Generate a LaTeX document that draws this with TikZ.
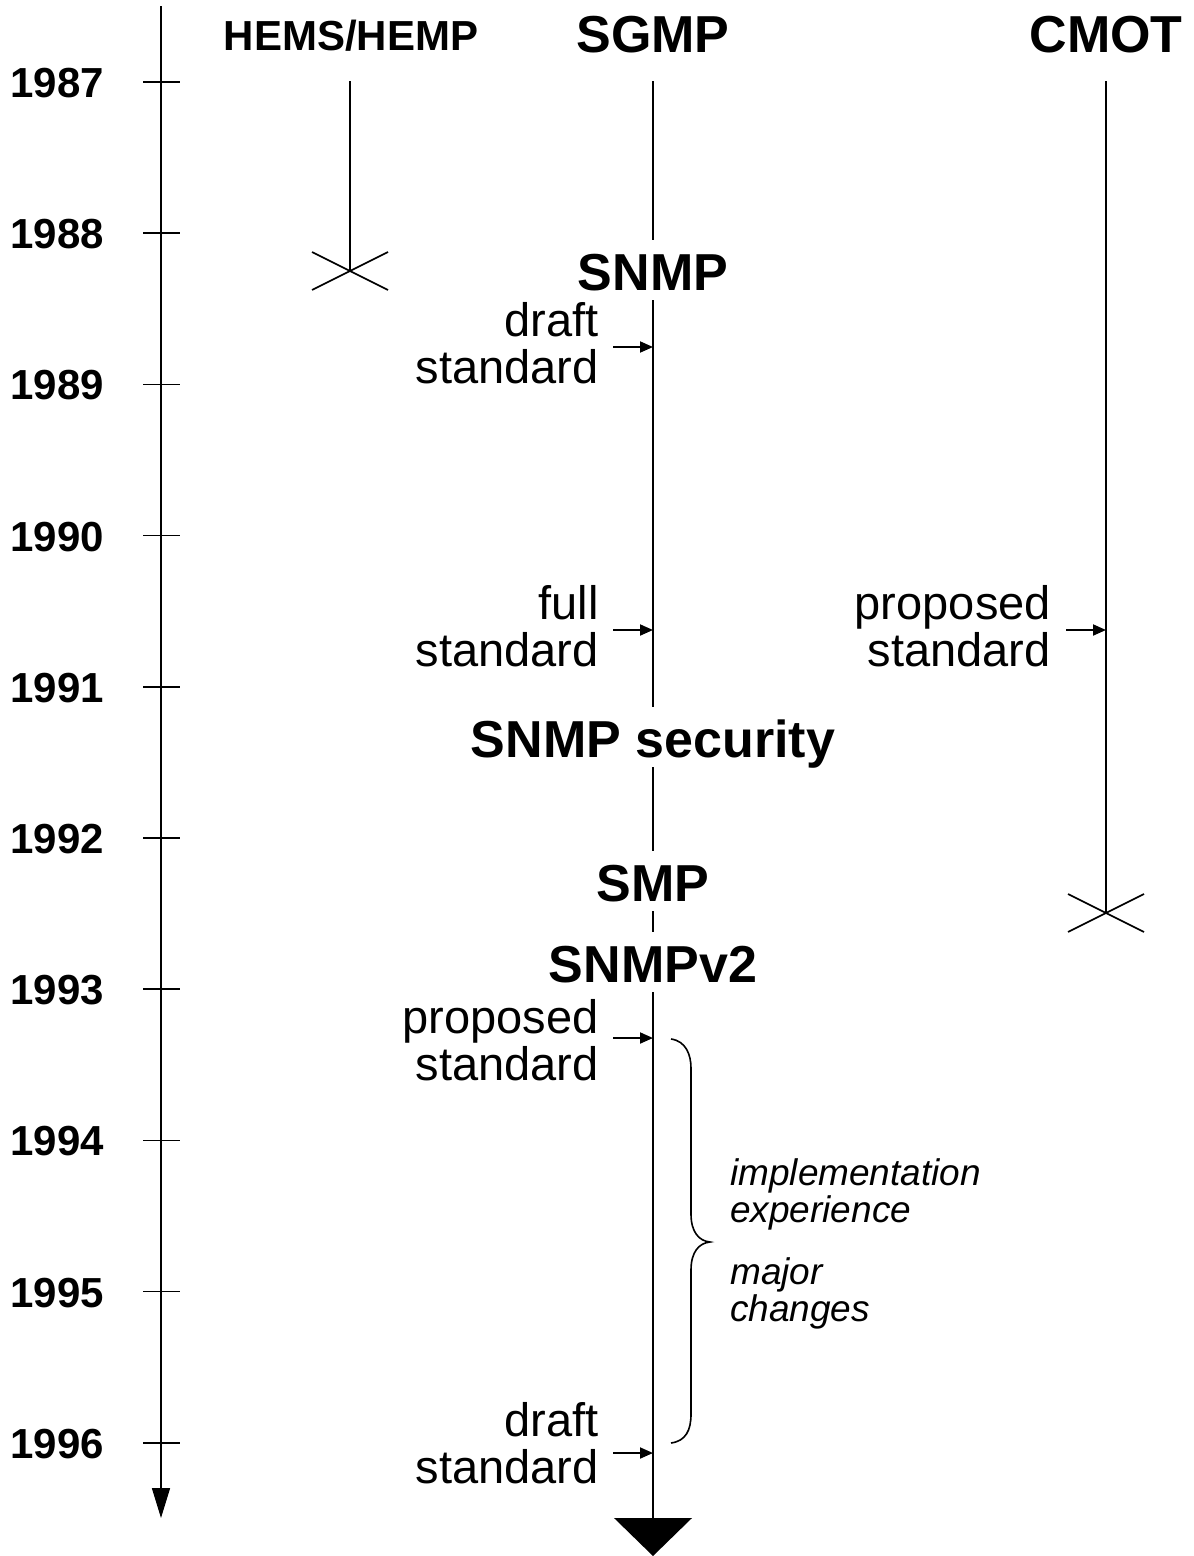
\documentclass[tikz,border=0pt]{standalone}
\usepackage{fontspec}
\setmainfont{Liberation Sans}
\usetikzlibrary{arrows.meta,calc}
\begin{document}
\begin{tikzpicture}[x=1pt,y=-1pt,
  year/.style={font=\fontsize{42}{42}\selectfont\bfseries, anchor=east, inner sep=0pt},
  proto/.style={font=\fontsize{52}{52}\selectfont\bfseries, anchor=base, inner sep=0pt},
  onlabel/.style={proto, fill=white, text height=50pt, text depth=10pt},
  stage/.style={font=\fontsize{47}{47}\selectfont, align=right, anchor=east, inner sep=0pt},
  note/.style={font=\fontsize{37}{37}\selectfont\itshape, align=left, anchor=west, inner sep=0pt},
  track/.style={line width=2.8pt},
  thin/.style={line width=1.6pt},
  event/.style={-{Triangle[length=13pt,width=11pt]}, line width=1.9pt},
]
\useasboundingbox (0,0) rectangle (1194,1556);

% time axis with yearly ticks
\coordinate (axtop) at (161,6);
\coordinate (axend) at (161,1518);
\draw[thin, -{Triangle[length=30pt,width=18pt]}] (axtop) -- (axend);
\foreach \yr [count=\i from 0] in {1987,...,1996} {
  \coordinate (t\yr) at (161,82+151.2*\i);
  \draw[thin] ($(t\yr)+(-18,0)$) -- ($(t\yr)+(19,0)$);
  \node[year] (y\yr) at (104,83+151.2*\i) {\yr};
}

% protocol tracks
\coordinate (hemstop) at (350,81);
\coordinate (hemsend) at (350,271);
\coordinate (sgmptop) at (653,81);
\coordinate (sgmpend) at (653,1518);
\coordinate (cmottop) at (1106,81);
\coordinate (cmotend) at (1106,913);

\draw[track] (hemstop) -- (hemsend);
\draw[track] (sgmptop) -- (sgmpend);
\draw[track] (cmottop) -- (cmotend);

% crosses where a protocol ends
\draw[thin] ($(hemsend)+(-38,-19)$) -- ($(hemsend)+(38,19)$)
            ($(hemsend)+(-38,19)$) -- ($(hemsend)+(38,-19)$);
\draw[thin] ($(cmotend)+(-38,-19)$) -- ($(cmotend)+(38,19)$)
            ($(cmotend)+(-38,19)$) -- ($(cmotend)+(38,-19)$);

% continuing development
\fill (614,1518) -- (692,1518) -- (653,1556) -- cycle;

% protocol names
\node[proto, font=\fontsize{42}{42}\selectfont\bfseries] (hems) at (351,50) {HEMS/HEMP};
\node[proto] (sgmp) at (653,52) {SGMP};
\node[proto] (cmot) at (1106,52) {CMOT};
\node[onlabel] (snmp) at (653,290) {SNMP};
\node[onlabel] (snmpsec) at (653,757) {SNMP security};
\node[onlabel] (smp) at (653,901) {SMP};
\node[onlabel] (snmpv2) at (653,982) {SNMPv2};

% standardisation stages
\coordinate (a1) at (653,347);
\coordinate (a2) at (653,630);
\coordinate (a3) at (1106,630);
\coordinate (a4) at (653,1038);
\coordinate (a5) at (653,1453);

\node[stage] (s1) at (599,343) {draft\\standard};
\node[stage] (s2) at (599,626) {full\\standard};
\node[stage] (s3) at (1051,626) {proposed\\standard};
\node[stage] (s4) at (599,1040) {proposed\\standard};
\node[stage] (s5) at (599,1443) {draft\\standard};

\draw[event] ($(s1.east |- a1)+(14,0)$) -- (a1);
\draw[event] ($(s2.east |- a2)+(14,0)$) -- (a2);
\draw[event] ($(s3.east |- a3)+(15,0)$) -- (a3);
\draw[event] ($(s4.east |- a4)+(14,0)$) -- (a4);
\draw[event] ($(s5.east |- a5)+(14,0)$) -- (a5);

% brace spanning the SNMPv2 revision period
\draw[thin] (671,1039) .. controls (686,1041) and (691,1055) .. (691,1068)
  -- (691,1214) .. controls (691,1232) and (699,1241) .. (710,1242)
  .. controls (699,1243) and (691,1252) .. (691,1270)
  -- (691,1414) .. controls (691,1430) and (686,1441) .. (671,1443);

\node[note] (n1) at (730,1194) {implementation\\experience};
\node[note] (n2) at (730,1293) {major\\changes};
\end{tikzpicture}
\end{document}
